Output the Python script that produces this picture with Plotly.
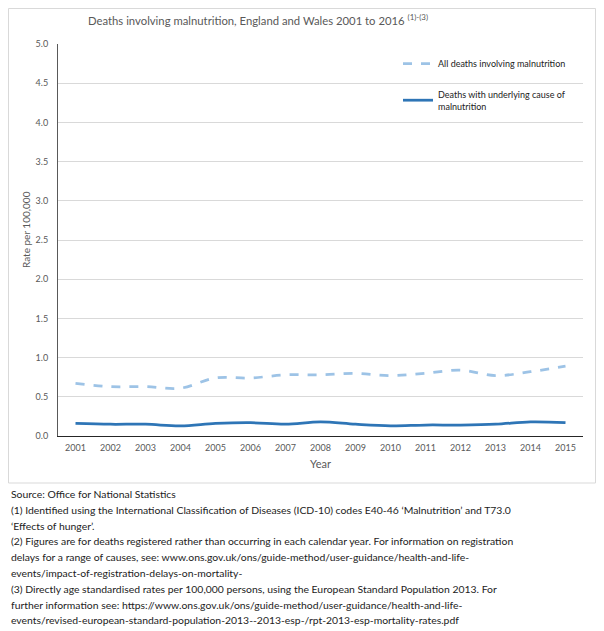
import plotly.graph_objects as go

years = [str(y) for y in range(2001, 2016)]
all_deaths = [0.67, 0.63, 0.63, 0.61, 0.74, 0.74, 0.78, 0.78, 0.80, 0.77, 0.80, 0.84, 0.77, 0.82, 0.89]
underlying = [0.16, 0.15, 0.15, 0.13, 0.16, 0.17, 0.15, 0.18, 0.15, 0.13, 0.14, 0.14, 0.15, 0.18, 0.17]
y_ticks = [0, 0.5, 1.0, 1.5, 2.0, 2.5, 3.0, 3.5, 4.0, 4.5, 5.0]

title = "Deaths involving malnutrition, England and Wales 2001 to 2016 <sup>(1)-(3)</sup>"
y_title = "Rate per 100,000"
x_title = "Year"
footnotes = [
    "Source: Office for National Statistics",
    "(1) Identified using the International Classification of Diseases (ICD-10) codes E40-46 \u2018Malnutrition\u2019 and T73.0",
    "\u2018Effects of hunger\u2019.",
    "(2) Figures are for deaths registered rather than occurring in each calendar year. For information on registration",
    "delays for a range of causes, see: www.ons.gov.uk/ons/guide-method/user-guidance/health-and-life-",
    "events/impact-of-registration-delays-on-mortality-",
    "(3) Directly age standardised rates per 100,000 persons, using the European Standard Population 2013. For",
    "further information see: https://www.ons.gov.uk/ons/guide-method/user-guidance/health-and-life-",
    "events/revised-european-standard-population-2013--2013-esp-/rpt-2013-esp-mortality-rates.pdf",
]

FONT = "Lato"
OFF = 8  # page body margin
W, H = 604 - OFF, 631 - OFF
L, R, T, B = 58 - OFF, 583 - OFF, 44 - OFF, 436 - OFF

fig = go.Figure()
fig.add_trace(go.Scatter(
    x=years, y=all_deaths, mode="lines", name="All deaths involving malnutrition",
    line=dict(color="#9dc3e6", width=2.75, dash="dash", shape="spline"), legendgroup="a"))
fig.add_trace(go.Scatter(
    x=years, y=underlying, mode="lines", name="Deaths with underlying cause of<br>malnutrition",
    line=dict(color="#2e75b6", width=2.75, shape="spline"), legendgroup="b"))

pw, ph = R - L, B - T
def px(x): return (x - OFF - L) / pw
def py(y): return (B - (y - OFF)) / ph

fig.add_shape(type="rect", xref="paper", yref="paper",
              x0=px(8.5), x1=px(595.5), y0=py(483), y1=py(8.5),
              line=dict(color="#d9d9d9", width=1), layer="below")

fig.add_annotation(xref="paper", yref="paper", x=px(258), y=py(20), xanchor="center", yanchor="middle",
                   text=title, showarrow=False, font=dict(family=FONT, size=11.3, color="#595959"))

fig.add_annotation(xref="paper", yref="paper", x=px(26), y=py(230), xanchor="center", yanchor="middle",
                   text=y_title, textangle=-90, showarrow=False,
                   font=dict(family=FONT, size=10, color="#595959"))

for i, line in enumerate(footnotes):
    fig.add_annotation(xref="paper", yref="paper", x=px(9), y=py(494 + i * 15.8),
                       xanchor="left", yanchor="middle", text=line, showarrow=False,
                       font=dict(family=FONT, size=10.4, color="#222222"))

fig.update_layout(
    width=W, height=H,
    margin=dict(l=L, r=W - R, t=T, b=H - B),
    paper_bgcolor="white", plot_bgcolor="white",
    font=dict(family=FONT, color="#595959"),
    showlegend=True,
    legend=dict(x=px(398), y=py(49), xanchor="left", yanchor="top",
                bgcolor="rgba(0,0,0,0)", font=dict(size=9, color="#222222"),
                tracegroupgap=14, itemwidth=30),
    xaxis=dict(type="category", showgrid=False, showline=True, linecolor="#262626", linewidth=1,
               ticks="", tickfont=dict(size=9, color="#595959"), ticklabelstandoff=3, automargin=False,
               title=dict(text=x_title, font=dict(size=11, color="#595959"), standoff=8),
               range=[-0.5, len(years) - 0.5]),
    yaxis=dict(range=[0, 5], tickvals=y_ticks, tickformat=".1f", showgrid=True, gridcolor="#d9d9d9",
               showline=True, linecolor="#595959", linewidth=1, ticks="", zeroline=False,
               tickfont=dict(size=9, color="#595959"), ticklabelstandoff=7, automargin=False),
)

fig.write_html("out.html")
